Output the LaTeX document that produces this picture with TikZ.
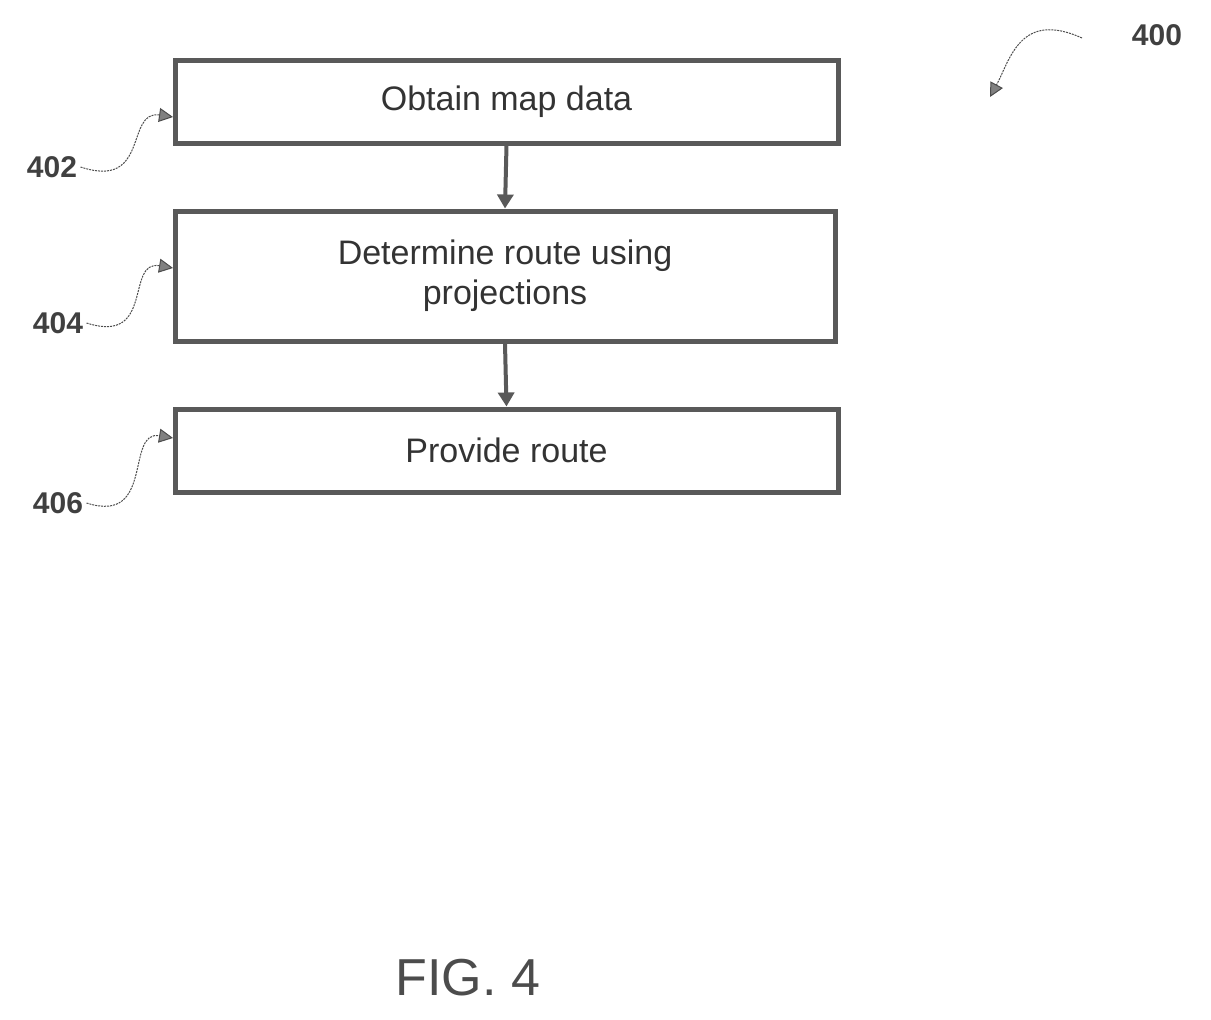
\documentclass[tikz,border=0pt]{standalone}
\usepackage{fontspec}
\setmainfont{Liberation Sans}
\usetikzlibrary{arrows.meta}
\begin{document}
\begin{tikzpicture}[x=1pt,y=-1pt,
 box/.style={draw=gray!70!black,line width=5pt,minimum height=#1,inner sep=0pt,align=center,font=\fontsize{34}{40}\selectfont,text=black!80},
 arr/.style={draw=gray!70!black,line width=4pt,-{Triangle[length=14pt,width=16pt]}},
 lead/.style={draw=black!70,line width=1pt,dashed,dash pattern=on 2pt off 1pt,-{Triangle[length=14pt,width=14pt,fill=gray]}},
 num/.style={font=\bfseries\fontsize{30}{34}\selectfont,text=black!75}]
\useasboundingbox (0,0) rectangle (1211,1020);
\node[box=83pt,minimum width=663pt] (b1) at (506.5,101.5) {Obtain map data};
\node[box=130pt,minimum width=660pt] (b2) at (505,276) {Determine route using\\projections};
\node[box=83pt,minimum width=663pt] (b3) at (506.5,450.5) {Provide route};
\draw[arr] (b1.south) -- (b2.north);
\draw[arr] (b2.south) -- (b3.north);
\node[num] (n402) at (52,167) {402};
\node[num] (n404) at (58,323) {404};
\node[num] (n406) at (58,503) {406};
\node[num] (n400) at (1157,35) {400};
\coordinate (t1) at (173,117);
\coordinate (t2) at (173,268);
\coordinate (t3) at (173,438);
\coordinate (t4) at (990,97);
\draw[lead] (n402.east) .. controls (150,190) and (125,110) .. (t1);
\draw[lead] (n404.east) .. controls (155,345) and (125,260) .. (t2);
\draw[lead] (n406.east) .. controls (155,525) and (125,430) .. (t3);
\draw[lead] (1082,38) .. controls (1020,10) and (1010,60) .. (t4);
\node[font=\fontsize{52}{60}\selectfont,text=black!70] (fig) at (468,978) {FIG. 4};
\end{tikzpicture}
\end{document}
